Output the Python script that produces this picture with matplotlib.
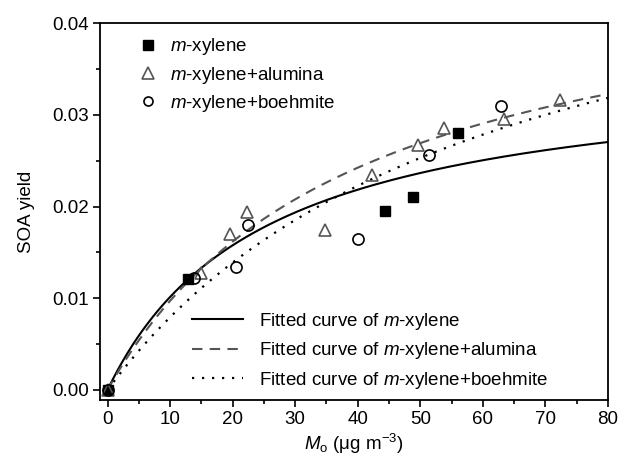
import numpy as np
import matplotlib
matplotlib.use("Agg")
import matplotlib.pyplot as plt
from matplotlib.lines import Line2D
from matplotlib.ticker import MultipleLocator

plt.rcParams['font.family'] = ['Liberation Sans', 'DejaVu Sans']
plt.rcParams['mathtext.fontset'] = 'custom'
plt.rcParams['mathtext.rm'] = 'Liberation Sans'
plt.rcParams['mathtext.it'] = 'Liberation Sans:italic'

# m-xylene
mx_x = [0, 12.8, 44.4, 48.9, 56.1]
mx_y = [0.0, 0.0121, 0.0195, 0.0210, 0.0280]
# m-xylene + alumina
al_x = [0, 15.0, 19.6, 22.3, 34.7, 42.3, 49.7, 53.8, 63.4, 72.4]
al_y = [0.0, 0.0128, 0.0170, 0.0194, 0.0175, 0.0234, 0.0267, 0.0286, 0.0296, 0.0316]
# m-xylene + boehmite
bo_x = [0, 13.9, 20.6, 22.4, 40.0, 51.4, 62.9]
bo_y = [0.0, 0.0122, 0.0134, 0.0180, 0.0165, 0.0256, 0.0310]

# one-product fit parameters (alpha, K) of Y = alpha*K*M/(1+K*M)
fit_mx = (0.0355, 0.0400)
fit_al = (0.0483, 0.0252)
fit_bo = (0.0560, 0.0165)

xticks = [0, 10, 20, 30, 40, 50, 60, 70, 80]
yticks = [0.00, 0.01, 0.02, 0.03, 0.04]

FS = 13.5
GREY = '#555555'

fig = plt.figure(figsize=(6.22, 4.61), dpi=100)
ax = fig.add_axes([0.1608, 0.1323, 0.8167, 0.8172])

M = np.linspace(0, 80, 400)
def odum(p, m):
    a, k = p
    return a * k * m / (1 + k * m)

ax.plot(M, odum(fit_mx, M), '-', color='black', lw=1.5)
ax.plot(M, odum(fit_al, M), '--', color=GREY, lw=1.5, dashes=(5, 3.5))
ax.plot(M, odum(fit_bo, M), ':', color='black', lw=1.6, dashes=(1, 3.5))

ax.plot(mx_x, mx_y, 's', color='black', ms=7.5, ls='none')
ax.plot(al_x, al_y, '^', mfc='none', mec=GREY, mew=1.2, ms=9, ls='none')
ax.plot(bo_x, bo_y, 'o', mfc='none', mec='black', mew=1.2, ms=8, ls='none')

ax.set_xlim(-1.2, 80)
ax.set_ylim(-0.0011, 0.04)
ax.set_xticks(xticks)
ax.set_yticks(yticks)
ax.set_yticklabels([f"{v:.2f}" for v in yticks])
ax.xaxis.set_minor_locator(MultipleLocator(5))
ax.yaxis.set_minor_locator(MultipleLocator(0.005))
ax.tick_params(which='major', direction='out', length=5, width=1.2, labelsize=FS, pad=3)
ax.tick_params(which='minor', direction='out', length=3, width=1.2)
for s in ax.spines.values():
    s.set_linewidth(1.3)

ax.set_xlabel(r'$M_{\mathrm{o}}$ ($\mathrm{\mu}$g m$^{-3}$)', fontsize=FS, labelpad=3)
ax.set_ylabel('SOA yield', fontsize=FS, labelpad=12)

h1 = [Line2D([], [], marker='s', color='black', ms=6.5, ls='none'),
      Line2D([], [], marker='^', mfc='none', mec=GREY, mew=1.2, ms=8, ls='none'),
      Line2D([], [], marker='o', mfc='none', mec='black', mew=1.2, ms=6.5, ls='none')]
l1 = ax.legend(h1, [r'$m$-xylene', r'$m$-xylene+alumina', r'$m$-xylene+boehmite'],
               loc='upper left', bbox_to_anchor=(0.067, 0.965), frameon=False, fontsize=FS,
               handletextpad=0.43, labelspacing=0.38, handlelength=1.5,
               borderpad=0, borderaxespad=0)
ax.add_artist(l1)

h2 = [Line2D([], [], ls='-', color='black', lw=1.5),
      Line2D([], [], ls='--', color=GREY, lw=1.5, dashes=(5, 3.5)),
      Line2D([], [], ls=':', color='black', lw=1.6, dashes=(1, 3.5))]
ax.legend(h2, [r'Fitted curve of $m$-xylene', r'Fitted curve of $m$-xylene+alumina',
               r'Fitted curve of $m$-xylene+boehmite'],
          loc='upper left', bbox_to_anchor=(0.181, 0.237), frameon=False, fontsize=FS,
          handlelength=2.72, handletextpad=0.85, labelspacing=0.46,
          borderpad=0, borderaxespad=0)

fig.savefig('out.png', dpi=100)
